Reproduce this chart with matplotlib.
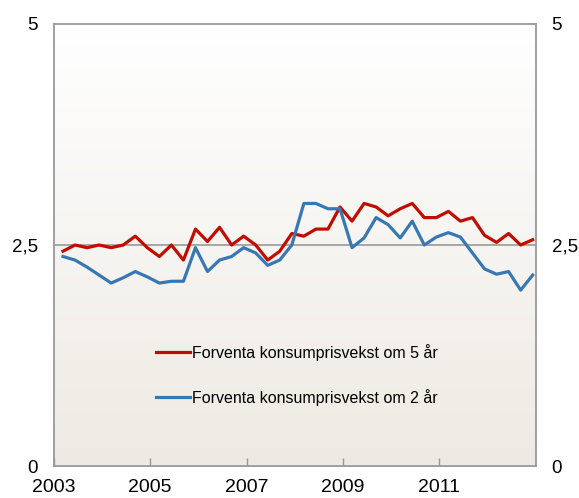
import numpy as np
import matplotlib.pyplot as plt
from matplotlib.colors import LinearSegmentedColormap

# quarterly observations, 2003 Q1 - 2012 Q4
quarters = 2003.19 + 0.25 * np.arange(40)

five_year = [2.43, 2.50, 2.47, 2.50, 2.47, 2.50, 2.60, 2.47, 2.37, 2.50,
             2.33, 2.68, 2.54, 2.70, 2.50, 2.60, 2.50, 2.33, 2.43, 2.63,
             2.60, 2.68, 2.68, 2.93, 2.77, 2.97, 2.93, 2.83, 2.91, 2.97,
             2.81, 2.81, 2.88, 2.77, 2.81, 2.61, 2.53, 2.63, 2.50, 2.56]

two_year = [2.37, 2.33, 2.25, 2.16, 2.07, 2.13, 2.20, 2.14, 2.07, 2.09,
            2.09, 2.47, 2.20, 2.33, 2.37, 2.47, 2.41, 2.27, 2.33, 2.50,
            2.97, 2.97, 2.91, 2.91, 2.47, 2.58, 2.81, 2.73, 2.58, 2.77,
            2.50, 2.59, 2.64, 2.59, 2.41, 2.23, 2.17, 2.20, 1.99, 2.16]

labels = ['Forventa konsumprisvekst om 5 år', 'Forventa konsumprisvekst om 2 år']
xticks = [2003, 2005, 2007, 2009, 2011]
yticks = [0, 2.5, 5]
ytick_labels = ['0', '2,5', '5']

red = '#C00D00'
blue = '#3778B4'
frame = '#999999'

plt.rcParams['font.family'] = ['Liberation Sans', 'DejaVu Sans']

fig = plt.figure(figsize=(5.79, 4.98), dpi=100)
ax = fig.add_axes([0.093, 0.064, 0.832, 0.888])

# background gradient, white at the top to beige at the bottom
grad = LinearSegmentedColormap.from_list('bg', ['#EEEAE3', '#FFFFFF'])
ax.imshow(np.linspace(0, 1, 256).reshape(-1, 1), cmap=grad, aspect='auto',
          origin='lower', extent=[0, 1, 0, 1], transform=ax.transAxes, zorder=0)

ax.axhline(2.5, color=frame, lw=1.2, zorder=1)
ax.plot(quarters, five_year, color=red, lw=2.3, label=labels[0], zorder=3)
ax.plot(quarters, two_year, color=blue, lw=2.3, label=labels[1], zorder=3)

ax.set_xlim(2003, 2013)
ax.set_ylim(0, 5)
ax.set_xticks(xticks)
ax.set_xticklabels([str(y) for y in xticks])
ax.set_yticks(yticks)
ax.set_yticklabels(ytick_labels)

for s in ax.spines.values():
    s.set_color(frame)
    s.set_linewidth(1.3)

ax.tick_params(axis='x', direction='in', length=6, color=frame, width=1,
               labelsize=14, pad=9)
ax.tick_params(axis='y', length=0, labelsize=13.5, pad=11.5,
               left=True, right=True, labelleft=True, labelright=True)

leg = ax.legend(loc='center left', bbox_to_anchor=(0.212, 0.207), frameon=False,
                fontsize=11.5, handlelength=2.1, handletextpad=0.15,
                labelspacing=1.75, borderpad=0, borderaxespad=0)

fig.savefig('out.png', dpi=100)
